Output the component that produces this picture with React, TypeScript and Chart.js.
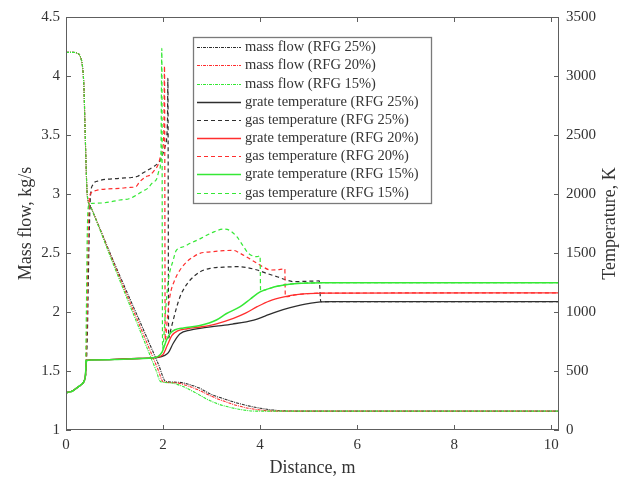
import React, { useEffect, useRef } from 'react';
import { Chart, registerables } from 'chart.js';

Chart.register(...registerables);

type P = [number, number];

const X_MAX = 10.16;
const xTickValues = [0, 2, 4, 6, 8, 10];
const massTickValues = [1, 1.5, 2, 2.5, 3, 3.5, 4, 4.5];
const tempTickValues = [0, 500, 1000, 1500, 2000, 2500, 3000, 3500];

// Mass flow, kg/s (left axis)
const massFlowStart: P[] = [
  [0, 4.2], [0.15, 4.2], [0.25, 4.19], [0.3, 4.16], [0.34, 4.08], [0.37, 3.9],
  [0.39, 3.6], [0.41, 3.3], [0.43, 3.05], [0.45, 2.95], [0.5, 2.9],
];
const massFlow25: P[] = [
  ...massFlowStart,
  [1.0, 2.41], [1.5, 1.94], [1.9, 1.562],
  [2.06, 1.41], [2.3, 1.405], [2.5, 1.39], [2.75, 1.355], [3.0, 1.3], [3.25, 1.265],
  [3.5, 1.232], [3.75, 1.205], [4.0, 1.185], [4.25, 1.17], [4.5, 1.162], [5.0, 1.16], [X_MAX, 1.16],
];
const massFlow20: P[] = [
  ...massFlowStart,
  [1.0, 2.395], [1.5, 1.903], [1.9, 1.509],
  [2.0, 1.41], [2.25, 1.4], [2.5, 1.375], [2.75, 1.335], [3.0, 1.285], [3.25, 1.245],
  [3.5, 1.21], [3.75, 1.185], [4.0, 1.17], [4.3, 1.16], [X_MAX, 1.16],
];
const massFlow15: P[] = [
  ...massFlowStart,
  [1.0, 2.379], [1.5, 1.869], [1.85, 1.512],
  [1.95, 1.41], [2.15, 1.4], [2.4, 1.37], [2.65, 1.32], [2.9, 1.262], [3.15, 1.218],
  [3.4, 1.19], [3.65, 1.17], [3.9, 1.16], [X_MAX, 1.16],
];

// Temperatures, K (right axis)
const tempStart: P[] = [
  [0, 0], [0.003, 311], [0.1, 325], [0.21, 353], [0.3, 380], [0.35, 398], [0.38, 420],
];
const grateCommon: P[] = [
  ...tempStart,
  [0.4, 460], [0.415, 560], [0.43, 590], [0.5, 594], [1.0, 598], [1.5, 606], [1.8, 612],
];
const grateTemp25: P[] = [
  ...grateCommon,
  [1.9, 616], [2.02, 630], [2.11, 655], [2.21, 735], [2.35, 815], [2.56, 847], [2.76, 862],
  [3.1, 880], [3.43, 898], [3.87, 932], [4.1, 965], [4.35, 1003], [4.6, 1035], [4.83, 1059],
  [5.05, 1075], [5.25, 1085], [5.5, 1088], [X_MAX, 1088],
];
const grateTemp20: P[] = [
  ...grateCommon,
  [1.9, 620], [2.0, 640], [2.09, 720], [2.18, 800], [2.3, 840], [2.5, 858], [2.8, 875],
  [3.1, 900], [3.45, 946], [3.7, 990], [3.94, 1045], [4.2, 1095], [4.52, 1130], [4.75, 1147],
  [4.97, 1155], [5.3, 1160], [X_MAX, 1162],
];
const grateTemp15: P[] = [
  ...grateCommon,
  [1.9, 625], [1.98, 660], [2.07, 760], [2.15, 820], [2.25, 850], [2.42, 865], [2.76, 885],
  [3.1, 932], [3.3, 985], [3.59, 1045], [3.8, 1110], [4.0, 1170], [4.2, 1200], [4.35, 1218],
  [4.6, 1236], [4.85, 1244], [5.3, 1248], [X_MAX, 1248],
];
const gasTemp25: P[] = [
  ...tempStart,
  [0.4, 450], [0.44, 800], [0.47, 1500], [0.5, 1950], [0.55, 2076], [0.66, 2110], [1.11, 2133],
  [1.35, 2140], [1.48, 2150], [1.55, 2170], [1.69, 2203], [1.8, 2231], [1.9, 2262], [1.96, 2300],
  [2.04, 2400], [2.09, 2600], [2.1, 2980], [2.115, 780], [2.16, 850], [2.21, 932], [2.28, 1040],
  [2.35, 1130], [2.45, 1210], [2.56, 1271], [2.76, 1340], [2.97, 1370], [3.25, 1380], [3.52, 1384],
  [3.7, 1378], [3.94, 1356], [4.15, 1325], [4.35, 1299], [4.55, 1270], [4.7, 1257], [4.95, 1260],
  [5.22, 1263], [5.25, 1087], [5.5, 1088], [X_MAX, 1088],
];
const gasTemp20: P[] = [
  ...tempStart,
  [0.4, 450], [0.43, 900], [0.45, 1500], [0.48, 1950], [0.52, 2010], [0.62, 2030], [1.11, 2048],
  [1.3, 2055], [1.44, 2062], [1.52, 2104], [1.65, 2147], [1.73, 2160], [1.82, 2200], [1.9, 2250],
  [1.97, 2350], [2.015, 2500], [2.03, 3085], [2.045, 760], [2.09, 950], [2.14, 1130], [2.25, 1280],
  [2.35, 1356], [2.5, 1430], [2.63, 1469], [2.76, 1497], [3.0, 1510], [3.25, 1520], [3.45, 1522],
  [3.59, 1497], [3.94, 1412], [4.05, 1385], [4.21, 1356], [4.35, 1358], [4.51, 1365], [4.52, 1130],
  [4.75, 1147], [4.97, 1155], [5.3, 1160], [X_MAX, 1162],
];
const gasTemp15: P[] = [
  ...tempStart,
  [0.4, 450], [0.42, 1000], [0.44, 1700], [0.47, 1905], [0.55, 1921], [0.8, 1926], [1.11, 1949],
  [1.3, 1960], [1.45, 1990], [1.56, 2020], [1.69, 2050], [1.77, 2090], [1.87, 2130], [1.92, 2200],
  [1.955, 2300], [1.975, 3234], [1.99, 690], [2.05, 1000], [2.11, 1271], [2.21, 1440], [2.27, 1520],
  [2.42, 1553], [2.56, 1582], [2.76, 1620], [3.0, 1670], [3.25, 1703], [3.38, 1690], [3.52, 1638],
  [3.65, 1560], [3.76, 1497], [3.94, 1469], [4.0, 1475], [4.01, 1180], [4.2, 1200], [4.35, 1218],
  [4.6, 1236], [4.85, 1244], [5.3, 1248], [X_MAX, 1248],
];

const BLACK = '#2e2e2e';
const RED = '#ff2e2e';
const GREEN = '#35e835';
const FONT = '"Liberation Serif", "DejaVu Serif", serif';

const MASS_DASH = [3, 1, 1, 1];
const GAS_DASH = [4, 3];

const toXY = (pts: P[]) => pts.map(([x, y]) => ({ x, y }));

const framePlugin = {
  id: 'frameAndLegend',
  afterDatasetsDraw(chart: any) {
    const { ctx, chartArea: a, scales } = chart;
    ctx.save();
    // frame
    ctx.strokeStyle = '#5e5e5e';
    ctx.lineWidth = 1;
    ctx.setLineDash([]);
    ctx.strokeRect(a.left + 0.5, a.top + 0.5, a.right - a.left - 1, a.bottom - a.top - 1);
    const TL = 5;
    ctx.beginPath();
    for (const v of xTickValues) {
      const px = Math.round(scales.x.getPixelForValue(v)) + 0.5;
      ctx.moveTo(px, a.bottom);
      ctx.lineTo(px, a.bottom - TL);
      ctx.moveTo(px, a.top);
      ctx.lineTo(px, a.top + TL);
    }
    for (const v of massTickValues) {
      const py = Math.round(scales.y.getPixelForValue(v)) + 0.5;
      ctx.moveTo(a.left, py);
      ctx.lineTo(a.left + TL, py);
    }
    for (const v of tempTickValues) {
      const py = Math.round(scales.y2.getPixelForValue(v)) + 0.5;
      ctx.moveTo(a.right, py);
      ctx.lineTo(a.right - TL, py);
    }
    ctx.stroke();

    // right axis title (reads bottom to top)
    ctx.fillStyle = '#333';
    ctx.font = `18px ${FONT}`;
    ctx.textAlign = 'center';
    ctx.textBaseline = 'middle';
    ctx.save();
    ctx.translate(610, (a.top + a.bottom) / 2);
    ctx.rotate(-Math.PI / 2);
    ctx.fillText('Temperature, K', 0, 0);
    ctx.restore();

    // legend
    const lx = 193, ly = 37, lw = 238, lh = 166;
    ctx.fillStyle = '#ffffff';
    ctx.fillRect(lx, ly, lw, lh);
    ctx.strokeStyle = '#7a7a7a';
    ctx.lineWidth = 1.3;
    ctx.strokeRect(lx + 0.5, ly + 0.5, lw, lh);
    ctx.font = `14.5px ${FONT}`;
    ctx.textAlign = 'left';
    ctx.textBaseline = 'middle';
    chart.data.datasets.forEach((ds: any, i: number) => {
      const y = Math.round(ly + 10.3 + i * 18.17) + 0.5;
      ctx.beginPath();
      ctx.strokeStyle = ds.borderColor;
      ctx.lineWidth = ds.borderWidth;
      ctx.setLineDash(ds.borderDash || []);
      ctx.moveTo(197, y);
      ctx.lineTo(241, y);
      ctx.stroke();
      ctx.setLineDash([]);
      ctx.fillStyle = '#333';
      ctx.fillText(ds.label, 245, y);
    });
    ctx.restore();
  },
};

export default function App() {
  const canvasRef = useRef<HTMLCanvasElement | null>(null);

  useEffect(() => {
    if (!canvasRef.current) return;
    Chart.defaults.font.family = FONT;
    const N = 9;
    let idx = 0;
    const mk = (label: string, pts: P[], color: string, axis: string, dash: number[], width: number) => ({
      label,
      data: toXY(pts),
      borderColor: color,
      backgroundColor: color,
      borderWidth: width,
      borderDash: dash,
      yAxisID: axis,
      pointRadius: 0,
      fill: false,
      order: N - 1 - idx++,
      cubicInterpolationMode: 'monotone' as const,
    });
    const noGrid = { display: false, drawTicks: false };
    const chart = new Chart(canvasRef.current, {
      type: 'line',
      data: {
        datasets: [
          mk('mass flow (RFG 25%)', massFlow25, BLACK, 'y', MASS_DASH, 1.1),
          mk('mass flow (RFG 20%)', massFlow20, RED, 'y', MASS_DASH, 1.1),
          mk('mass flow (RFG 15%)', massFlow15, GREEN, 'y', MASS_DASH, 1.1),
          mk('grate temperature (RFG 25%)', grateTemp25, BLACK, 'y2', [], 1.3),
          mk('gas temperature (RFG 25%)', gasTemp25, BLACK, 'y2', GAS_DASH, 1.2),
          mk('grate temperature (RFG 20%)', grateTemp20, RED, 'y2', [], 1.3),
          mk('gas temperature (RFG 20%)', gasTemp20, RED, 'y2', GAS_DASH, 1.2),
          mk('grate temperature (RFG 15%)', grateTemp15, GREEN, 'y2', [], 1.5),
          mk('gas temperature (RFG 15%)', gasTemp15, GREEN, 'y2', GAS_DASH, 1.2),
        ],
      },
      options: {
        responsive: false,
        animation: false,
        devicePixelRatio: 1,
        layout: { padding: { top: 17, left: 0, right: 0, bottom: 0 } },
        plugins: { legend: { display: false }, tooltip: { enabled: false } },
        scales: {
          x: {
            type: 'linear',
            min: 0,
            max: X_MAX,
            grid: noGrid,
            border: { display: false },
            afterBuildTicks: (s: any) => { s.ticks = xTickValues.map((v) => ({ value: v })); },
            afterFit: (s: any) => { s.height = 49; },
            ticks: { color: '#333', font: { size: 15 }, padding: 6, maxRotation: 0, callback: (v: any) => String(v) },
            title: { display: true, text: 'Distance, m', color: '#333', font: { size: 18 }, padding: { top: 0, bottom: 0 } },
          },
          y: {
            type: 'linear',
            position: 'left',
            min: 1,
            max: 4.5,
            grid: noGrid,
            border: { display: false },
            afterBuildTicks: (s: any) => { s.ticks = massTickValues.map((v) => ({ value: v })); },
            afterFit: (s: any) => { s.width = 66; },
            ticks: { color: '#333', font: { size: 15 }, padding: 6, callback: (v: any) => String(v) },
            title: { display: true, text: 'Mass flow, kg/s', color: '#333', font: { size: 18 }, padding: { top: 15, bottom: 0 } },
          },
          y2: {
            type: 'linear',
            position: 'right',
            min: 0,
            max: 3500,
            grid: noGrid,
            border: { display: false },
            afterBuildTicks: (s: any) => { s.ticks = tempTickValues.map((v) => ({ value: v })); },
            afterFit: (s: any) => { s.width = 63; },
            ticks: { color: '#333', font: { size: 15 }, padding: 7, callback: (v: any) => String(v) },
          },
        },
      },
      plugins: [framePlugin],
    });
    return () => chart.destroy();
  }, []);

  return (
    <div style={{ position: 'fixed', left: 0, top: 0, width: 622, height: 479, background: '#fff' }}>
      <canvas ref={canvasRef} width={622} height={479} />
    </div>
  );
}
